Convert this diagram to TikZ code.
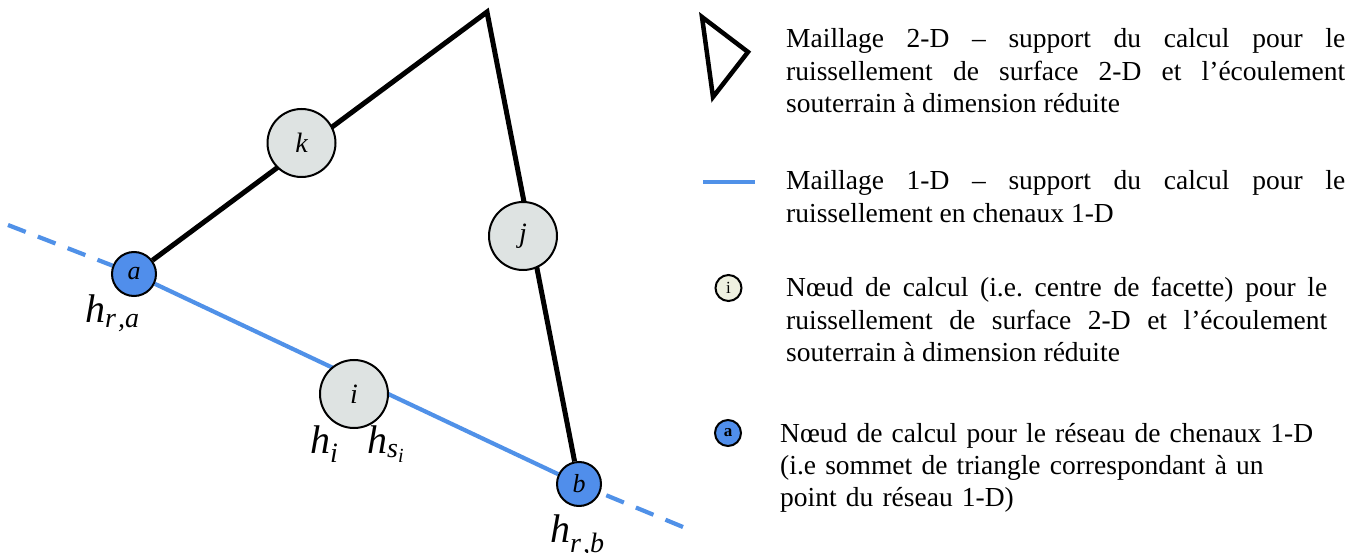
\documentclass[tikz,border=0pt]{standalone}
\usepackage{amsmath}
\usepackage{fontspec}
\setmainfont{Liberation Serif}
\usetikzlibrary{backgrounds}
\definecolor{chanblue}{RGB}{80,145,232}
\definecolor{nodeblue}{RGB}{80,142,235}
\definecolor{nodegray}{RGB}{222,227,226}
\definecolor{iconcream}{RGB}{238,240,224}
\tolerance=9999
\hyphenpenalty=10000
\frenchspacing
\begin{document}
\begin{tikzpicture}[x=1pt,y=-1pt,
  edge/.style={line width=5pt, black},
  chan/.style={line width=4.2pt, chanblue},
  chandash/.style={chan, dash pattern=on 19pt off 13pt},
  facenode/.style={circle, draw=black, line width=2pt, fill=nodegray, minimum size=68pt, inner sep=0pt, font=\fontsize{28}{30}\selectfont\itshape},
  chnode/.style={circle, draw=black, line width=2pt, fill=nodeblue, minimum size=44pt, inner sep=0pt, font=\fontsize{26}{28}\selectfont\itshape},
  hlabel/.style={anchor=base west, inner sep=0pt, font=\fontsize{40}{44}\selectfont},
  legtext/.style={anchor=base west, inner sep=0pt, align=justify, font=\fontsize{27.5}{32.5}\selectfont},
  iconnode/.style={circle, draw=black, line width=2pt, minimum size=26pt, inner sep=0pt, font=\fontsize{17}{18}\selectfont},
]
\useasboundingbox (0,0) rectangle (1366,553);

% diagram
\coordinate (apex) at (487,12);
\coordinate (L) at (8,225);
\coordinate (R) at (683,527);
\node[chnode] (a) at (134,274) {a};
\node[chnode] (b) at (579,484) {b};
\node[facenode] (i) at (354,394) {i};
\node[facenode] (j) at (523,236) {j};
\node[facenode] (k) at (301.5,143) {k};

\begin{scope}[on background layer]
  \draw[edge] (a) -- (apex) -- (b);
  \draw[chan] (a) -- (b);
  \draw[chandash] (L) -- (a);
  \draw[chandash] (R) -- (b);
\end{scope}

\node[hlabel] (hra) at (85,323) {\textit{h}$_{\textit{r\kern2pt,a}}$};
\node[hlabel] (hi) at (310,453) {\textit{h}$_{\textit{i}}$};
\node[hlabel] (hsi) at (367,453) {\textit{h}$_{\textit{s}_{\textit{i}}}$};
\node[hlabel] (hrb) at (550,542) {\textit{h}$_{\textit{r\kern2pt,b}}$};

% legend
\draw[line width=4.5pt, line join=miter] (702,17) -- (748,52) -- (713,97) -- cycle;
\draw[chan, line width=4.5pt] (703,182) -- (755,182);
\node[iconnode, fill=iconcream] (iconi) at (728.5,288) {i};
\node[iconnode, fill=nodeblue, font=\fontsize{17}{18}\selectfont\bfseries] (icona) at (728,433) {a};

\node[legtext, text width=559pt] (t1) at (786,48) {Maillage 2-D – support du calcul pour le\linebreak ruissellement de surface 2-D et l’écoulement\linebreak souterrain à dimension réduite};
\node[legtext, text width=559pt] (t2) at (786,190) {Maillage 1-D – support du calcul pour le\linebreak ruissellement en chenaux 1-D};
\node[legtext, text width=541pt] (t3) at (786,297) {Nœud de calcul (i.e. centre de facette) pour le\linebreak ruissellement de surface 2-D et l’écoulement\linebreak souterrain à dimension réduite};
\node[legtext, text width=570pt, align=left] (t4) at (780,442) {Nœud de calcul pour le réseau de chenaux 1-D\\(i.e sommet de triangle correspondant à un\\point du réseau 1-D)};
\end{tikzpicture}
\end{document}
